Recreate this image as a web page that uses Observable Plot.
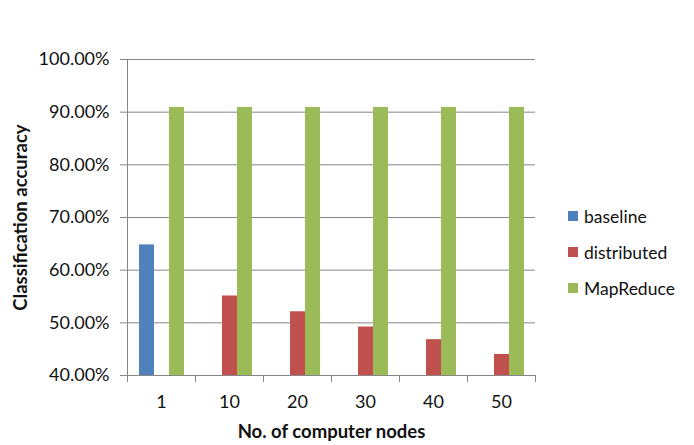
<!DOCTYPE html>
<html>
<head>
<meta charset="utf-8">
<script src="https://cdn.jsdelivr.net/npm/d3@7"></script>
<script src="https://cdn.jsdelivr.net/npm/@observablehq/plot@0.6"></script>
<style>
  html, body { margin: 0; padding: 0; background: #fff; }
  #chart { position: relative; width: 694px; height: 445px; font-family: Lato, "Open Sans", sans-serif; }
  #chart svg { display: block; }
  #chart [aria-label="y-axis label"] text,
  #chart [aria-label="fx-axis label"] text { font-weight: bold; font-size: 18.5px; }
  .legend { position: absolute; left: 568px; top: 205px; display: flex; flex-direction: column; gap: 14px; }
  .legend .item { display: flex; align-items: center; height: 22px; font-size: 17.5px; color: #111; }
  .legend .swatch { width: 10px; height: 10px; margin-right: 6px; }
</style>
</head>
<body>
<div id="chart"></div>
<script>
// Node counts along the x axis
const nodes = ["1", "10", "20", "30", "40", "50"];
// Methods compared at each node count
const series = ["baseline", "distributed", "MapReduce"];
// Classification accuracy (%) per method; null where a method has no bar
const baseline    = [64.8, null, null, null, null, null];
const distributed = [null, 55.1, 52.1, 49.2, 46.8, 44.0];
const mapReduce   = [90.9, 90.9, 90.9, 90.9, 90.9, 90.9];
// Y axis ticks (%)
const yTicks = [40, 50, 60, 70, 80, 90, 100];
const colors = ["#4F81BD", "#C0504D", "#9BBB59"];

const seriesValues = [baseline, distributed, mapReduce];
const rows = [];
nodes.forEach((n, i) => {
  series.forEach((s, j) => {
    const v = seriesValues[j][i];
    if (v != null) rows.push({node: n, series: s, value: v});
  });
});

const yMin = yTicks[0];
const gridColor = "#868686";

const chart = Plot.plot({
  width: 694,
  height: 445,
  marginLeft: 126,
  marginRight: 158,
  marginTop: 59,
  marginBottom: 70,
  style: {fontFamily: "Lato, 'Open Sans', sans-serif", fontSize: "18px", color: "#111", background: "#fff"},
  fx: {domain: nodes, paddingInner: 0, paddingOuter: 0},
  x: {domain: series, paddingInner: 0, paddingOuter: 0.75, axis: null},
  y: {domain: [yTicks[0], yTicks[yTicks.length - 1]]},
  color: {domain: series, range: colors},
  marks: [
    Plot.ruleY(yTicks, {stroke: gridColor, strokeWidth: 1}),
    Plot.barY(rows, {fx: "node", x: "series", y1: yMin, y2: "value", fill: "series"}),
    // y axis line on the first group
    Plot.frame({anchor: "left", fx: [nodes[0]], stroke: gridColor}),
    // short tick marks between node groups
    Plot.frame({anchor: "left", insetTop: 316, insetBottom: -6, stroke: gridColor}),
    Plot.frame({anchor: "right", insetTop: 316, insetBottom: -6, fx: [nodes[nodes.length - 1]], stroke: gridColor}),
    Plot.axisY({
      ticks: yTicks,
      tickSize: 7,
      tickPadding: 11,
      stroke: gridColor,
      tickFormat: d => d.toFixed(2) + "%",
      label: "Classification accuracy",
      labelAnchor: "center",
      labelArrow: "none",
      labelOffset: 114
    }),
    Plot.axisFx({
      anchor: "bottom",
      tickSize: 0,
      tickPadding: 20,
      label: "No. of computer nodes",
      labelAnchor: "center",
      labelArrow: "none",
      labelOffset: 62
    })
  ]
});

const root = document.getElementById("chart");
root.appendChild(chart);

const legend = document.createElement("div");
legend.className = "legend";
series.forEach((s, j) => {
  const item = document.createElement("div");
  item.className = "item";
  const sw = document.createElement("span");
  sw.className = "swatch";
  sw.style.background = colors[j];
  const label = document.createElement("span");
  label.textContent = s;
  item.appendChild(sw);
  item.appendChild(label);
  legend.appendChild(item);
});
root.appendChild(legend);
</script>
</body>
</html>
